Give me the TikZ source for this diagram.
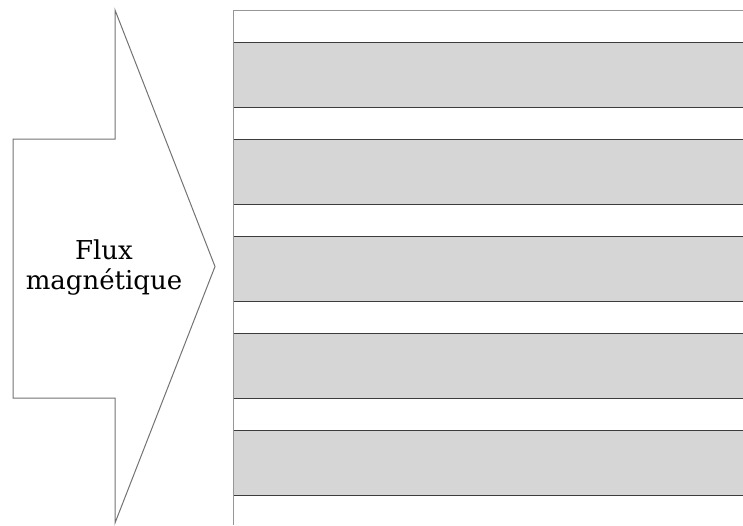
\documentclass[tikz,border=0pt]{standalone}
\usepackage{xcolor}
\usepackage{fontspec}
\setmainfont{DejaVu Serif}
\usepackage{tikz}
\usetikzlibrary{positioning, calc}
\definecolor{myedge}{RGB}{115,115,115}
\definecolor{mydark}{RGB}{60,60,60}
\definecolor{mygrey}{RGB}{214,214,214}
\definecolor{mylight}{RGB}{150,150,150}
\tikzset{
  fluxarrow/.style={draw=myedge, fill=white, line width=1pt, line join=miter},
  label/.style={align=center, font=\fontsize{26}{30}\selectfont, text=black},
  strip/.style={fill=mygrey, draw=mydark, line width=1pt},
  frame/.style={draw=mylight, line width=1pt}
}

\begin{document}
\begin{tikzpicture}[x=1pt, y=-1pt]
  \useasboundingbox (0,0) rectangle (743,525);

  % Arrow
  \coordinate (S1) at (13,139);
  \coordinate (S2) at (115,139);
  \coordinate (H1) at (115,10);
  \coordinate (T) at (215,266.5);
  \coordinate (H2) at (115,523);
  \coordinate (S3) at (115,398);
  \coordinate (S4) at (13,398);
  \draw[fluxarrow] (S1) -- (S2) -- (H1) -- (T) -- (H2) -- (S3) -- (S4) -- cycle;
  \node[label] (flux) at (104,268) {Flux\\magnétique};

  % Stack of layers
  \foreach \i in {0,...,4} {
    \draw[strip] (233,{42+97*\i}) rectangle (743,{107+97*\i});
  }
  \coordinate (B1) at (233,525);
  \coordinate (B2) at (233,10);
  \coordinate (B3) at (743,10);
  \draw[frame] (B1) -- (B2) -- (B3);
\end{tikzpicture}
\end{document}
